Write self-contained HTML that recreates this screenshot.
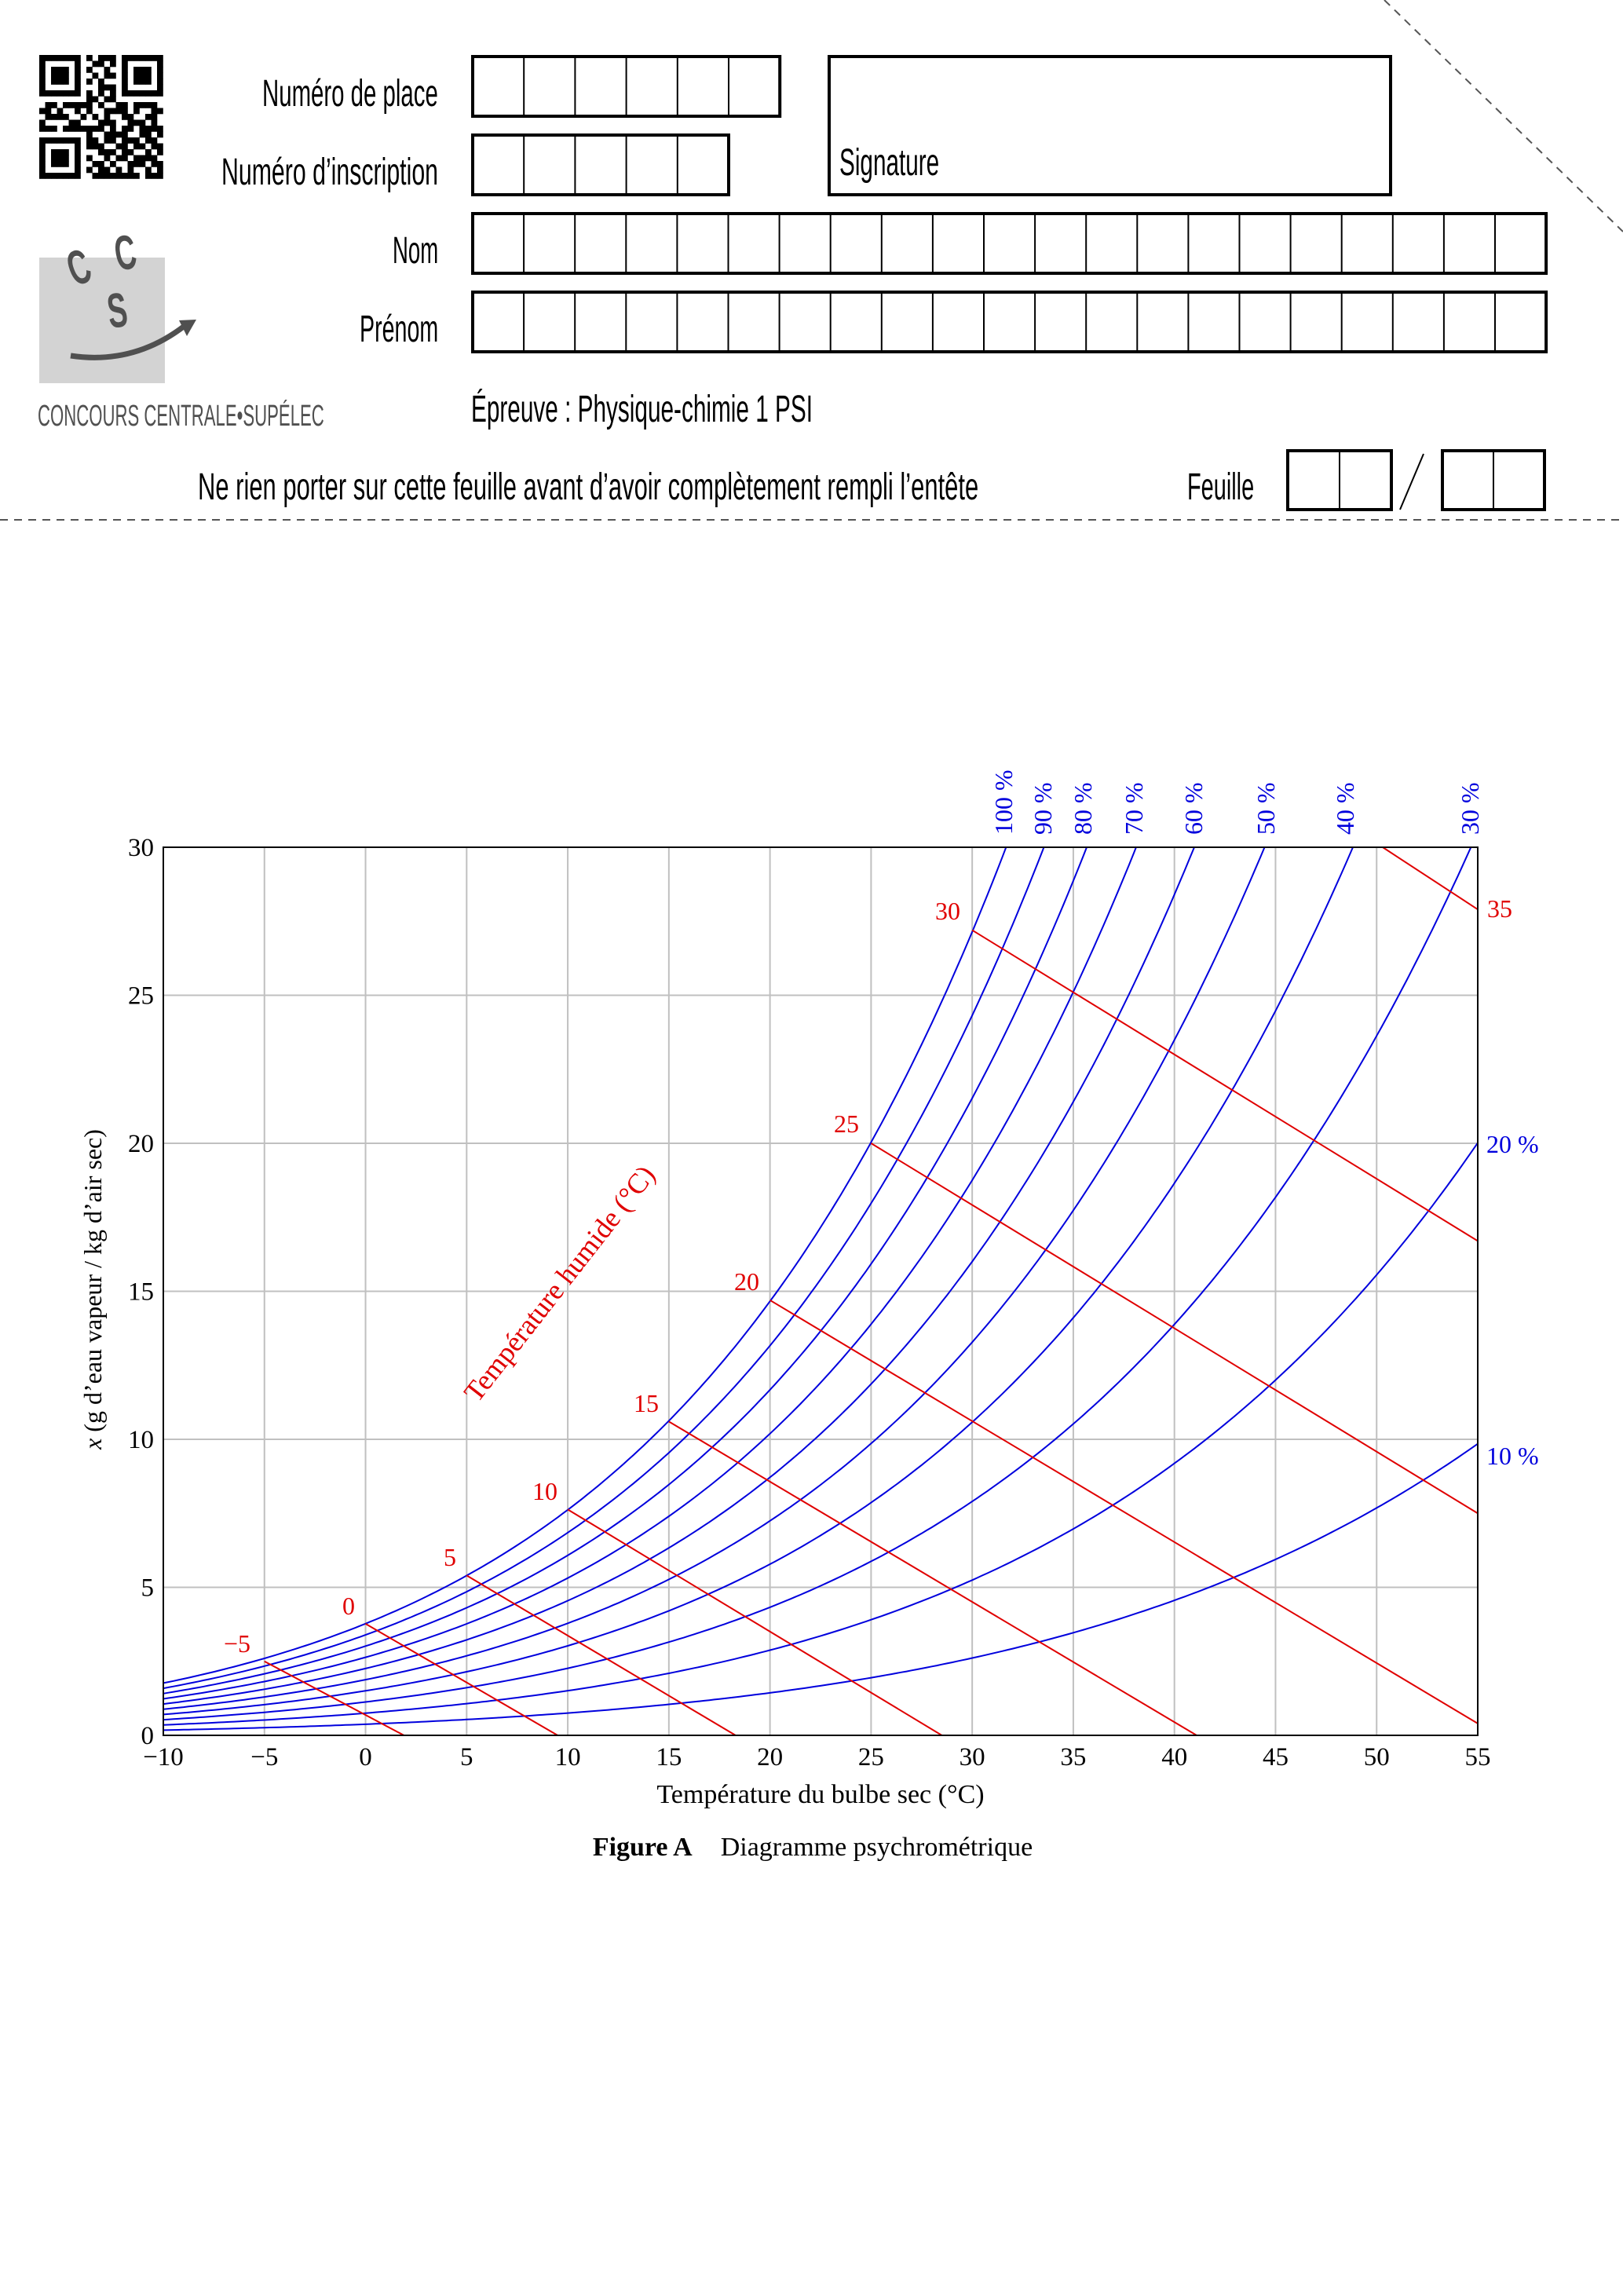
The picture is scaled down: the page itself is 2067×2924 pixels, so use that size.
<!DOCTYPE html>
<html><head><meta charset="utf-8">
<style>
html,body{margin:0;padding:0;background:#fff;}
body{width:2067px;height:2924px;position:relative;overflow:hidden;}
svg{position:absolute;left:0;top:0;}
.hd{font-family:"Liberation Sans Narrow","Liberation Sans",sans-serif;}
.sr{font-family:"Liberation Serif",serif;}
</style></head>
<body>
<svg id="s" width="2067" height="2924" viewBox="0 0 2067 2924" xmlns="http://www.w3.org/2000/svg">
<g id="qr" fill="#000"></g>
<rect x="50" y="328" width="160" height="160" fill="#d3d3d3"/>
<g fill="#505050" class="hd" font-weight="bold">
<text x="0" y="0" font-size="62" transform="translate(95,365) rotate(-20) scale(0.6,1)">C</text>
<text x="0" y="0" font-size="62" transform="translate(150,345) rotate(-10) scale(0.6,1)">C</text>
<text x="0" y="0" font-size="62" transform="translate(140,418) rotate(-8) scale(0.6,1)">S</text>
</g>
<path d="M90 453 Q170 465 235 415" stroke="#505050" stroke-width="7" fill="none"/>
<polygon points="250,407 228,408 238,428" fill="#505050"/>
<text class="hd" x="0" y="0" font-size="38" fill="#505050" transform="translate(48,542) scale(0.6,1)" textLength="608" lengthAdjust="spacingAndGlyphs">CONCOURS CENTRALE•SUPÉLEC</text>

<g class="hd" font-size="48" fill="#000">
<text transform="translate(334,135) scale(0.6,1)" textLength="373" lengthAdjust="spacingAndGlyphs">Numéro de place</text>
<text transform="translate(282,235) scale(0.6,1)" textLength="460" lengthAdjust="spacingAndGlyphs">Numéro d’inscription</text>
<text transform="translate(500,335) scale(0.6,1)" textLength="97" lengthAdjust="spacingAndGlyphs">Nom</text>
<text transform="translate(458,435) scale(0.6,1)" textLength="167" lengthAdjust="spacingAndGlyphs">Prénom</text>
<text transform="translate(1069,223) scale(0.6,1)" textLength="212" lengthAdjust="spacingAndGlyphs">Signature</text>
<text transform="translate(600,537) scale(0.6,1)" textLength="725" lengthAdjust="spacingAndGlyphs">Épreuve : Physique-chimie 1 PSI</text>
<text transform="translate(252,636) scale(0.6,1)" textLength="1657" lengthAdjust="spacingAndGlyphs">Ne rien porter sur cette feuille avant d’avoir complètement rempli l’entête</text>
<text transform="translate(1512,636) scale(0.6,1)" textLength="142" lengthAdjust="spacingAndGlyphs">Feuille</text>
</g>
<g id="boxes" fill="none" stroke="#000"></g>
<rect x="1056" y="72" width="715" height="176" fill="none" stroke="#000" stroke-width="4"/>
<line x1="1783" y1="649" x2="1813" y2="578" stroke="#000" stroke-width="2"/>
<line x1="0" y1="662" x2="2067" y2="662" stroke="#555" stroke-width="2" stroke-dasharray="10,8"/>
<line x1="1763" y1="0" x2="2067" y2="295" stroke="#555" stroke-width="2" stroke-dasharray="10,8"/>

<g id="grid" stroke="#c0c0c0" stroke-width="2"></g>
<g id="curves" fill="none" stroke="#0000dd" stroke-width="2"></g>
<g id="wet" stroke="#e00000" stroke-width="2"></g>
<rect x="208" y="1079" width="1674" height="1131" fill="none" stroke="#000" stroke-width="2"/>
<g id="ticks" class="sr" font-size="33" fill="#000"></g>
<g class="sr" font-size="32" fill="#e00000" text-anchor="middle">
<text x="302" y="2104">−5</text>
<text x="444" y="2056">0</text>
<text x="573" y="1994">5</text>
<text x="694" y="1910">10</text>
<text x="823" y="1798">15</text>
<text x="951" y="1643">20</text>
<text x="1078" y="1442">25</text>
<text x="1207" y="1171">30</text>
<text x="1910" y="1168">35</text>
<text x="0" y="0" transform="translate(722,1642) rotate(-52)" font-size="36">Température humide (°C)</text>
</g>
<g class="sr" font-size="32" fill="#0000dd">
<text transform="translate(1289,1063) rotate(-90)">100 %</text>
<text transform="translate(1339,1063) rotate(-90)">90 %</text>
<text transform="translate(1390,1063) rotate(-90)">80 %</text>
<text transform="translate(1455,1063) rotate(-90)">70 %</text>
<text transform="translate(1531,1063) rotate(-90)">60 %</text>
<text transform="translate(1623,1063) rotate(-90)">50 %</text>
<text transform="translate(1724,1063) rotate(-90)">40 %</text>
<text transform="translate(1883,1063) rotate(-90)">30 %</text>
<text x="1893" y="1468">20 %</text>
<text x="1893" y="1865">10 %</text>
</g>
<g class="sr" fill="#000" text-anchor="middle">
<text x="1045" y="2296" font-size="34">Température du bulbe sec (°C)</text>
<text x="0" y="0" font-size="32" transform="translate(129,1642) rotate(-90)"><tspan font-style="italic">x</tspan> (g d’eau vapeur / kg d’air sec)</text>
<text x="1035" y="2363" font-size="34"><tspan font-weight="bold">Figure A</tspan><tspan dx="36">Diagramme psychrométrique</tspan></text>
</g>
</svg>
<script>
var NS="http://www.w3.org/2000/svg";
function el(p,t,a,txt){var e=document.createElementNS(NS,t);for(var k in a)e.setAttribute(k,a[k]);if(txt!==undefined)e.textContent=txt;document.getElementById(p).appendChild(e);return e;}
function row(x,y,n,w,h){el("boxes","rect",{x:x,y:y,width:n*w,height:h,"stroke-width":4});for(var i=1;i<n;i++)el("boxes","line",{x1:x+i*w,y1:y,x2:x+i*w,y2:y+h,"stroke-width":2});}
row(602,72,6,65.2,76);row(602,172,5,65.2,76);row(602,272,21,65.1,76);row(602,372,21,65.1,76);
row(1640,574,2,66,75);row(1837,574,2,65,75);
var m=7.5,q=[
"111111101011101111111","100000100110101000001","101110101001001011101","101110100101101011101","101110101010001011101","100000100011101000001","111111101010101111111","000000001101100000000","011011111010011011110","110100101001111010011","011110010101001100110","100001100011100111010","111011111110101101111","000000001001111001101","111111101101101110110","100000101110011011011","101110100011101100101","101110101001011011110","101110100110100111011","100000101011010100101","111111100111111110111"];
for(var r=0;r<21;r++)for(var c=0;c<21;c++)if(q[r][c]=="1")el("qr","rect",{x:50+c*m,y:70+r*m,width:m+0.3,height:m+0.3});
var X=function(T){return 208+(T+10)*25.754;},Y=function(x){return 2210-x*37.7;};
for(var T=-5;T<55;T+=5)el("grid","line",{x1:X(T),y1:1079,x2:X(T),y2:2210});
for(var v=5;v<30;v+=5)el("grid","line",{x1:208,y1:Y(v),x2:1882,y2:Y(v)});
function ps(T){return 610.94*Math.exp(17.625*T/(T+243.04));}
function xs(T,f){var p=f*ps(T);return 622*p/(101325-p);}
for(var f=1;f>0.05;f-=0.1){var d="";
 for(var T=-10;T<=55.001;T+=0.25){var x=xs(T,f);
  if(x>30){var T0=T-0.25,x0=xs(T0,f),t=(30-x0)/(x-x0);d+="L"+X(T0+t*0.25).toFixed(1)+","+Y(30).toFixed(1);break;}
  d+=(d?"L":"M")+X(T).toFixed(1)+","+Y(x).toFixed(1);}
 el("curves","path",{d:d});}
var W=[[-5,-5,2.5,1.9,0],[0,0,3.77,9.5,0],[5,5,5.4,18.3,0],[10,10,7.63,28.5,0],[15,15,10.6,41.1,0],[20,20,14.7,55,0.4],[25,25,20.0,55,7.5],[30,30,27.2,55,16.7],[35,50.3,30,55,27.9]];
W.forEach(function(w){el("wet","line",{x1:X(w[1]),y1:Y(w[2]),x2:X(w[3]),y2:Y(w[4])});});
for(var T=-10;T<=55;T+=5){el("ticks","text",{x:X(T),y:2248,"text-anchor":"middle"},(T<0?"−":"")+Math.abs(T));}
for(var v=0;v<=30;v+=5){el("ticks","text",{x:196,y:Y(v)+11,"text-anchor":"end"},v);}
</script>
</body></html>
